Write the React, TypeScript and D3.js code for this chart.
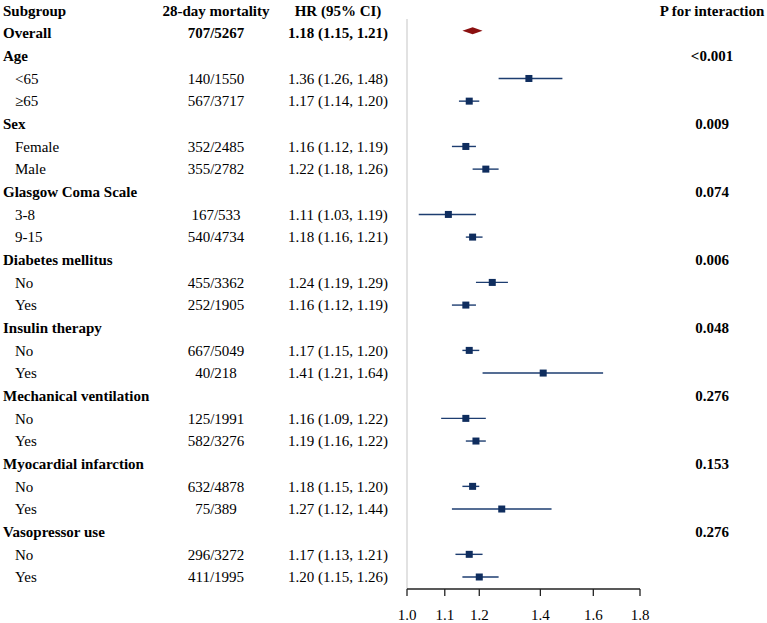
import React, { useRef, useEffect } from "react";
import * as d3 from "d3";

// rows of the forest plot, top to bottom (group headings have no estimate)
const subgroups = [
  "Overall",
  "Age", "<65", "≥65",
  "Sex", "Female", "Male",
  "Glasgow Coma Scale", "3-8", "9-15",
  "Diabetes mellitus", "No", "Yes",
  "Insulin therapy", "No", "Yes",
  "Mechanical ventilation", "No", "Yes",
  "Myocardial infarction", "No", "Yes",
  "Vasopressor use", "No", "Yes",
];
const mortality = [
  "707/5267",
  "", "140/1550", "567/3717",
  "", "352/2485", "355/2782",
  "", "167/533", "540/4734",
  "", "455/3362", "252/1905",
  "", "667/5049", "40/218",
  "", "125/1991", "582/3276",
  "", "632/4878", "75/389",
  "", "296/3272", "411/1995",
];
const hr = [
  1.18,
  null, 1.36, 1.17,
  null, 1.16, 1.22,
  null, 1.11, 1.18,
  null, 1.24, 1.16,
  null, 1.17, 1.41,
  null, 1.16, 1.19,
  null, 1.18, 1.27,
  null, 1.17, 1.2,
];
const lower = [
  1.15,
  null, 1.26, 1.14,
  null, 1.12, 1.18,
  null, 1.03, 1.16,
  null, 1.19, 1.12,
  null, 1.15, 1.21,
  null, 1.09, 1.16,
  null, 1.15, 1.12,
  null, 1.13, 1.15,
];
const upper = [
  1.21,
  null, 1.48, 1.2,
  null, 1.19, 1.26,
  null, 1.19, 1.21,
  null, 1.29, 1.19,
  null, 1.2, 1.64,
  null, 1.22, 1.22,
  null, 1.2, 1.44,
  null, 1.21, 1.26,
];
const pInteraction = [
  "",
  "<0.001", "", "",
  "0.009", "", "",
  "0.074", "", "",
  "0.006", "", "",
  "0.048", "", "",
  "0.276", "", "",
  "0.153", "", "",
  "0.276", "", "",
];
const ticks = [1.0, 1.1, 1.2, 1.4, 1.6, 1.8];

const W = 767;
const H = 623;
const FONT = "'Liberation Serif', 'Times New Roman', serif";

function ForestPlot() {
  const ref = useRef<SVGSVGElement>(null);

  useEffect(() => {
    const svg = d3.select(ref.current);
    svg.selectAll("*").remove();

    const x = d3.scaleLog().domain([1.0, 1.8]).range([407, 640]);
    const y = d3.scaleLinear().domain([-1, subgroups.length - 1]).range([10.5, 577]);
    const axisY = 589;

    const g = svg.append("g").style("font-family", FONT).style("font-size", "15px").attr("fill", "#000");

    // column headings
    const head = g.append("g").attr("font-weight", "bold");
    head.append("text").attr("x", 3).attr("y", y(-1)).attr("dy", "0.35em").text("Subgroup");
    head.append("text").attr("x", 216).attr("y", y(-1)).attr("dy", "0.35em").attr("text-anchor", "middle").text("28-day mortality");
    head.append("text").attr("x", 338).attr("y", y(-1)).attr("dy", "0.35em").attr("text-anchor", "middle").text("HR (95% CI)");
    head.append("text").attr("x", 712).attr("y", y(-1)).attr("dy", "0.35em").attr("text-anchor", "middle").text("P for interaction");

    // reference line at HR = 1
    g.append("line")
      .attr("x1", x(1)).attr("x2", x(1))
      .attr("y1", 19).attr("y2", axisY)
      .attr("stroke", "#cfcfcf").attr("stroke-width", 1.2);

    subgroups.forEach((name, i) => {
      const isGroup = hr[i] === null;
      const isOverall = i === 0;
      const bold = isGroup || isOverall;
      const yy = y(i);
      const row = g.append("g").attr("font-weight", bold ? "bold" : "normal");

      row.append("text")
        .attr("x", bold ? 3 : 15)
        .attr("y", yy).attr("dy", "0.35em")
        .text(name);

      if (pInteraction[i]) {
        row.append("text")
          .attr("x", 712).attr("y", yy).attr("dy", "0.35em")
          .attr("text-anchor", "middle")
          .text(pInteraction[i]);
      }

      if (isGroup) return;
      const est = hr[i] as number;
      const lo = lower[i] as number;
      const hi = upper[i] as number;

      row.append("text")
        .attr("x", 216).attr("y", yy).attr("dy", "0.35em")
        .attr("text-anchor", "middle")
        .text(mortality[i]);
      row.append("text")
        .attr("x", 338).attr("y", yy).attr("dy", "0.35em")
        .attr("text-anchor", "middle")
        .text(`${est.toFixed(2)} (${lo.toFixed(2)}, ${hi.toFixed(2)})`);

      if (isOverall) {
        const my = yy - 2.5;
        g.append("path")
          .attr("d", `M${x(lo)},${my} L${x(est)},${my - 3.5} L${x(hi)},${my} L${x(est)},${my + 3.5} Z`)
          .attr("fill", "#8b1010");
      } else {
        g.append("line")
          .attr("x1", x(lo)).attr("x2", x(hi))
          .attr("y1", yy).attr("y2", yy)
          .attr("stroke", "#1d3d70").attr("stroke-width", 1.4);
        g.append("rect")
          .attr("x", x(est) - 3.5).attr("y", yy - 3.5)
          .attr("width", 7).attr("height", 7)
          .attr("fill", "#0f2d5e");
      }
    });

    // x axis, ticks hanging below the line
    const axis = g.append("g").attr("transform", `translate(0,${axisY})`);
    axis.append("line")
      .attr("x1", x(1.0)).attr("x2", x(1.8))
      .attr("stroke", "#222").attr("stroke-width", 1.3);
    axis.selectAll("line.tick")
      .data(ticks)
      .join("line")
      .attr("class", "tick")
      .attr("x1", (d) => x(d)).attr("x2", (d) => x(d))
      .attr("y1", 0).attr("y2", 7)
      .attr("stroke", "#222").attr("stroke-width", 1.3);
    axis.selectAll("text")
      .data(ticks)
      .join("text")
      .attr("x", (d) => x(d)).attr("y", 26)
      .attr("dy", "0.35em")
      .attr("text-anchor", "middle")
      .text((d) => d.toFixed(1));
  }, []);

  return (
    <svg
      ref={ref}
      width={W}
      height={H}
      style={{ position: "absolute", left: 0, top: 0, background: "#fff" }}
    ></svg>
  );
}

export default function App() {
  return <ForestPlot />;
}
